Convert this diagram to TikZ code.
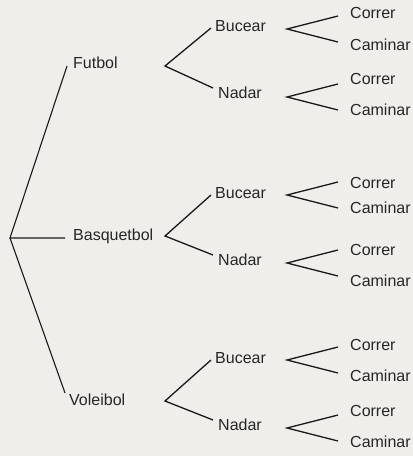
\documentclass[tikz,border=0pt]{standalone}
\usepackage{fontspec}
\setmainfont{Liberation Sans}
\begin{document}
\begin{tikzpicture}[x=1pt,y=-1pt,
  lbl/.style={anchor=west,inner sep=0pt,font=\fontsize{16}{18}\selectfont,text height=0.72em,text depth=0pt,text=black!85},
  br/.style={draw=black!90,line width=1.3pt,line join=miter}]
\path[fill={rgb,255:red,239;green,238;blue,235}] (0,0) rectangle (413,456);
% level 1
\coordinate (root) at (10,238);
\node[lbl] (futbol) at (73,65) {Futbol};
\node[lbl] (basq) at (73,237) {Basquetbol};
\node[lbl] (volei) at (69,402) {Voleibol};
\coordinate (fE) at (67,66);
\coordinate (bE) at (65,238);
\coordinate (vE) at (65,393);
\draw[br,line width=1.1pt] (fE) -- (root) -- (bE);
\draw[br,line width=1.1pt] (root) -- (vE);
% level 2
\foreach \k/\yv/\yb/\yn in {1/66/28/95, 2/236/195/262, 3/401/360/427}{
  \coordinate (v\k) at (165,\yv);
  \node[lbl] (buc\k) at (215,\yb) {Bucear};
  \node[lbl] (nad\k) at (218,\yn) {Nadar};
  \coordinate (bt\k) at (211,\yb);
  \coordinate (nt\k) at (213,\yn-7);
  \draw[br] (bt\k) -- (v\k) -- (nt\k);
}
% level 3
\foreach \k/\yv/\yc/\ym in {a/29/15/47, b/97/81/112, c/195/185/210, d/263/252/283, e/360/347/378, f/428/413/444}{
  \coordinate (w\k) at (287,\yv);
  \node[lbl] (cor\k) at (350,\yc) {Correr};
  \node[lbl] (cam\k) at (350,\ym) {Caminar};
  \coordinate (ct\k) at (338,\yv-13);
  \coordinate (mt\k) at (338,\yv+13);
  \draw[br] (ct\k) -- (w\k) -- (mt\k);
}
\end{tikzpicture}
\end{document}
